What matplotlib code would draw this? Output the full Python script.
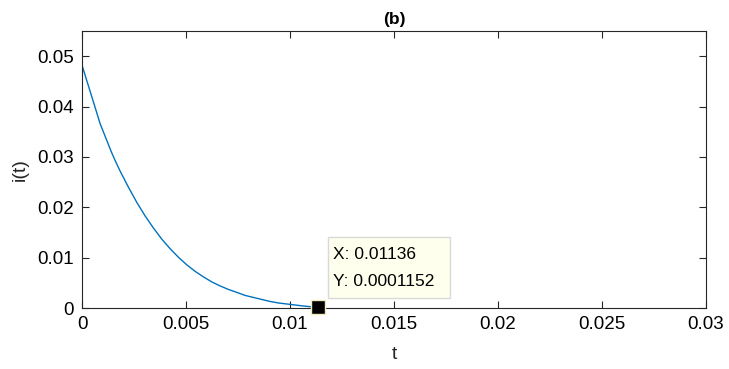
import matplotlib
matplotlib.use("Agg")
import matplotlib.pyplot as plt
from matplotlib.patches import Rectangle

# values
t_vals = [0.0, 0.00061, 0.00087, 0.00141, 0.00159, 0.00183, 0.00223, 0.00263,
          0.00303, 0.00343, 0.00383, 0.00423, 0.00463, 0.00503, 0.00543,
          0.00583, 0.00623, 0.00663, 0.00703, 0.00744, 0.00784, 0.00824,
          0.00864, 0.00904, 0.00944, 0.00984, 0.01024, 0.01064, 0.01100, 0.01136]
i_vals = [0.0482, 0.0401, 0.0366, 0.0310, 0.0293, 0.0272, 0.0240, 0.0210,
          0.0183, 0.0159, 0.0137, 0.0118, 0.0101, 0.0086, 0.0073,
          0.0062, 0.0052, 0.0044, 0.0037, 0.0031, 0.0025, 0.0021,
          0.0017, 0.0013, 0.0010, 0.0008, 0.0006, 0.0004, 0.00025, 0.0001152]

tip_x = 0.01136
tip_y = 0.0001152

x_ticks = [0, 0.005, 0.01, 0.015, 0.02, 0.025, 0.03]
x_labels = ["0", "0.005", "0.01", "0.015", "0.02", "0.025", "0.03"]
y_ticks = [0, 0.01, 0.02, 0.03, 0.04, 0.05]
y_labels = ["0", "0.01", "0.02", "0.03", "0.04", "0.05"]

plt.rcParams["font.family"] = ["Liberation Sans", "DejaVu Sans"]
axis_col = "#262626"

fig = plt.figure(figsize=(7.29, 3.69), dpi=100)
ax = fig.add_axes([0.1125, 0.1653, 0.856, 0.7507])

ax.plot(t_vals, i_vals, color="#0072BD", lw=1.0)
ax.plot([tip_x], [tip_y], marker="s", ms=9.5, mfc="black", mec="#f2ecc0",
        mew=1.0, clip_on=False, zorder=5)

ax.set_xlim(0, 0.03)
ax.set_ylim(0, 0.055)
ax.set_xticks(x_ticks)
ax.set_xticklabels(x_labels)
ax.set_yticks(y_ticks)
ax.set_yticklabels(y_labels)
ax.tick_params(direction="in", length=5, width=0.8, colors=axis_col,
               labelsize=13.5, labelcolor="black", top=True, right=True, pad=6)
for sp in ax.spines.values():
    sp.set_color(axis_col)
    sp.set_linewidth(0.8)

ax.set_title("(b)", fontsize=12.5, fontweight="bold", color="black", pad=5)
ax.set_xlabel("t", fontsize=14, color=axis_col, labelpad=9)
ax.set_ylabel("i(t)", fontsize=14, color=axis_col, labelpad=6)

# data tip box (figure fraction)
fig.patches.append(Rectangle((0.4495, 0.1916), 0.1678, 0.1653,
                             transform=fig.transFigure, fc="#ffffee",
                             ec="#d9d9d9", lw=1, zorder=6))
fig.text(0.4568, 0.309, "X: 0.01136", fontsize=12.5, color="black",
         va="center", ha="left", zorder=7)
fig.text(0.4568, 0.2358, "Y: 0.0001152", fontsize=12.5, color="black",
         va="center", ha="left", zorder=7)

fig.savefig("out.png", dpi=100)
